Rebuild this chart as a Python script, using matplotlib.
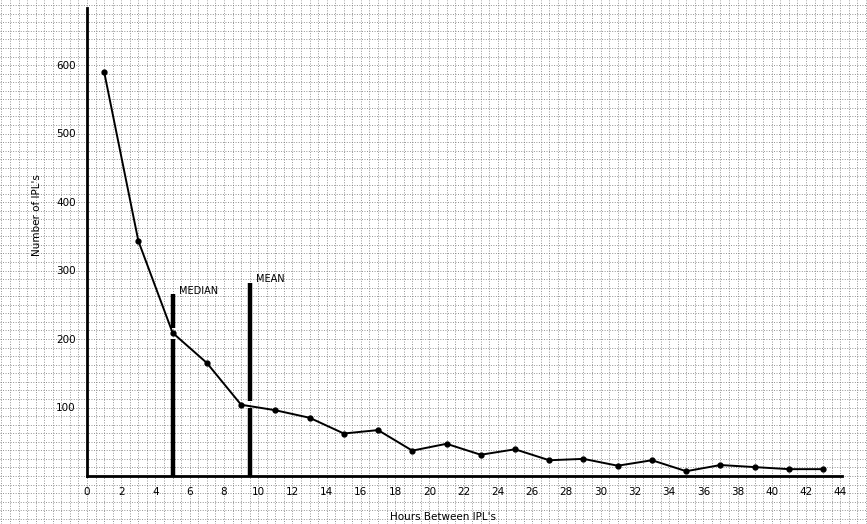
import numpy as np
import matplotlib.pyplot as plt

# hours between IPL's (bin centres) and counts
hours = [1, 3, 5, 7, 9, 11, 13, 15, 17, 19, 21, 23, 25, 27, 29, 31, 33, 35, 37, 39, 41, 43]
counts = [590, 343, 209, 165, 104, 96, 85, 62, 67, 37, 47, 31, 39, 23, 25, 15, 23, 7, 16, 13, 10, 10]

median_x = 5.05
mean_x = 9.5
x_ticks = list(range(0, 45, 2))
y_ticks = [100, 200, 300, 400, 500, 600]

W, H = 867, 524
fig = plt.figure(figsize=(W / 100, H / 100), dpi=100)

# graph paper background over the whole sheet
bg = fig.add_axes([0, 0, 1, 1])
bg.set_xlim(0, W)
bg.set_ylim(H, 0)
bg.axis('off')
step = 8.56
for gx in np.arange(87 % step, W, step):
    bg.axvline(gx, color='#6e6e6e', lw=0.7, ls=(0, (1, 1.6)), alpha=0.75)
for gy in np.arange(476 % step, H, step):
    bg.axhline(gy, color='#6e6e6e', lw=0.7, ls=(0, (1, 1.6)), alpha=0.75)

ax = fig.add_axes([87 / W, 1 - 476 / H, (842 - 87) / W, (476 - 8) / H])
ax.patch.set_alpha(0)
ax.set_xlim(0, 44.1)
ax.set_ylim(0, 683)

ax.plot(hours, counts, color='black', lw=1.4, marker='o', ms=3.5)

# median / mean bars, broken where the curve passes
ax.plot([median_x, median_x], [0, 200], color='black', lw=3.2, solid_capstyle='butt')
ax.plot([median_x, median_x], [216, 266], color='black', lw=3.2, solid_capstyle='butt')
ax.plot([mean_x, mean_x], [0, 99], color='black', lw=3.2, solid_capstyle='butt')
ax.plot([mean_x, mean_x], [109, 282], color='black', lw=3.2, solid_capstyle='butt')
ax.text(median_x + 0.35, 270, 'MEDIAN', fontsize=7, va='center', ha='left')
ax.text(mean_x + 0.35, 287, 'MEAN', fontsize=7, va='center', ha='left')

for s in ['top', 'right']:
    ax.spines[s].set_visible(False)
ax.spines['left'].set_linewidth(2)
ax.spines['bottom'].set_linewidth(2)

ax.set_xticks(x_ticks)
ax.set_yticks(y_ticks)
ax.tick_params(length=0, labelsize=7.5, pad=8)

fig.text(37 / W, 1 - 215 / H, "Number of IPL's", rotation=90, fontsize=7.5,
         ha='center', va='center')
fig.text(443 / W, 1 - 517 / H, "Hours Between IPL's", fontsize=7.5,
         ha='center', va='center')

plt.savefig('out.png', dpi=100)
plt.close()
